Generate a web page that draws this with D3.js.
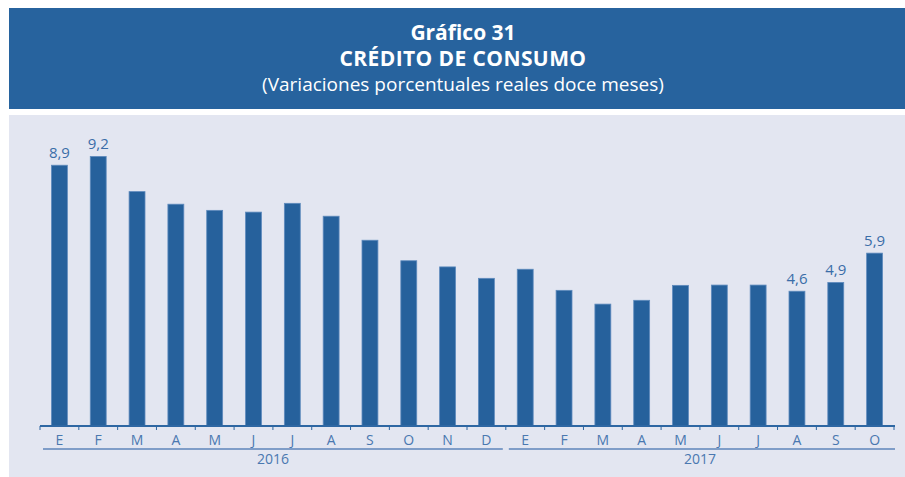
<!DOCTYPE html>
<html>
<head>
<meta charset="utf-8">
<script src="https://cdn.jsdelivr.net/npm/d3@7"></script>
<style>
  html, body { margin: 0; padding: 0; background: #ffffff; }
  svg { display: block; font-family: "Open Sans", "Noto Sans", sans-serif; }
</style>
</head>
<body>
<svg id="chart" width="905" height="477"></svg>
<script>
// months and years
let months = ["E","F","M","A","M","J","J","A","S","O","N","D",
              "E","F","M","A","M","J","J","A","S","O"];
let years = ["2016","2016","2016","2016","2016","2016","2016","2016","2016","2016","2016","2016",
             "2017","2017","2017","2017","2017","2017","2017","2017","2017","2017"];
let values = [8.9, 9.2, 8.0, 7.57, 7.36, 7.3, 7.6, 7.16, 6.34, 5.64, 5.43, 5.04,
              5.35, 4.63, 4.16, 4.29, 4.8, 4.81, 4.81, 4.6, 4.9, 5.9];
// which bars carry a value label
let labelled = [0, 1, 19, 20, 21];
let yearNames = ["2016", "2017"];

let data = months.map(function(m, i) {
  return {key: years[i] + "-" + i, month: m, year: years[i], value: values[i], idx: i};
});

let svg = d3.select("#chart");

//header band
svg.append("rect").attr("x", 9).attr("y", 8).attr("width", 896).attr("height", 101)
  .style("fill", "#27639e");
svg.append("text").attr("x", 463).attr("y", 40).attr("text-anchor", "middle")
  .style("font-size", "21px").style("font-weight", "bold").style("fill", "#ffffff")
  .text("Gráfico 31");
svg.append("text").attr("x", 463).attr("y", 66).attr("text-anchor", "middle")
  .style("font-size", "21px").style("font-weight", "bold").style("fill", "#ffffff")
  .style("letter-spacing", "0.4px")
  .text("CRÉDITO DE CONSUMO");
svg.append("text").attr("x", 463).attr("y", 91).attr("text-anchor", "middle")
  .style("font-size", "19px").style("fill", "#ffffff")
  .text("(Variaciones porcentuales reales doce meses)");

//plot panel
svg.append("rect").attr("x", 9).attr("y", 115).attr("width", 896).attr("height", 362)
  .style("fill", "#e3e6f1");

//scales
let x = d3.scaleBand().domain(data.map(function(d) { return d.key; }))
    .range([40, 894]).paddingInner(0.59).paddingOuter(0.295),
    y = d3.scaleLinear().domain([0, 10]).range([426, 133]);

let step = x.step();

//bars
svg.selectAll(".bar")
  .data(data)
  .enter()
  .append("rect")
  .attr("class", "bar")
  .attr("x", function(d) { return x(d.key); })
  .attr("y", function(d) { return y(d.value); })
  .attr("width", x.bandwidth())
  .attr("height", function(d) { return y(0) - y(d.value); })
  .style("fill", "#26619c")
  .style("stroke", "#5f8bbd")
  .style("stroke-width", 0.8);

//value labels
svg.selectAll(".val")
  .data(data.filter(function(d) { return labelled.indexOf(d.idx) >= 0; }))
  .enter()
  .append("text")
  .attr("class", "val")
  .attr("x", function(d) { return x(d.key) + x.bandwidth() / 2; })
  .attr("y", function(d) { return y(d.value) - 7; })
  .attr("text-anchor", "middle")
  .style("font-size", "15px")
  .style("fill", "#3a6da8")
  .text(function(d) { return d3.format(".1f")(d.value).replace(".", ","); });

//x axis line and ticks
let axisG = svg.append("g").attr("class", "x-axis");
axisG.append("line").attr("x1", 40).attr("x2", 895).attr("y1", 426).attr("y2", 426)
  .style("stroke", "#2e67a3").style("stroke-width", 2);
let tickXs = data.map(function(d) { return x(d.key) - step * x.paddingOuter(); });
tickXs.push(894);
axisG.selectAll(".tick")
  .data(tickXs)
  .enter()
  .append("line")
  .attr("x1", function(d) { return d; }).attr("x2", function(d) { return d; })
  .attr("y1", 426).attr("y2", 430)
  .style("stroke", "#2e67a3").style("stroke-width", 1);

axisG.selectAll(".month")
  .data(data)
  .enter()
  .append("text")
  .attr("class", "month")
  .attr("x", function(d) { return x(d.key) + x.bandwidth() / 2; })
  .attr("y", 445)
  .attr("text-anchor", "middle")
  .style("font-size", "14px")
  .style("fill", "#4a78b0")
  .text(function(d) { return d.month; });

//year brackets
yearNames.forEach(function(yr, k) {
  let ds = data.filter(function(d) { return d.year === yr; });
  let x0 = x(ds[0].key) - step * x.paddingOuter(),
      x1 = x(ds[ds.length - 1].key) + x.bandwidth() + step * x.paddingOuter();
  svg.append("line")
    .attr("x1", x0 + 3).attr("x2", k === yearNames.length - 1 ? x1 + 1 : x1 - 3)
    .attr("y1", 449).attr("y2", 449)
    .style("stroke", "#7f9dc8").style("stroke-width", 2);
  svg.append("text")
    .attr("x", (x0 + x1) / 2).attr("y", 464)
    .attr("text-anchor", "middle")
    .style("font-size", "14px")
    .style("fill", "#4a78b0")
    .text(yr);
});
</script>
</body>
</html>
